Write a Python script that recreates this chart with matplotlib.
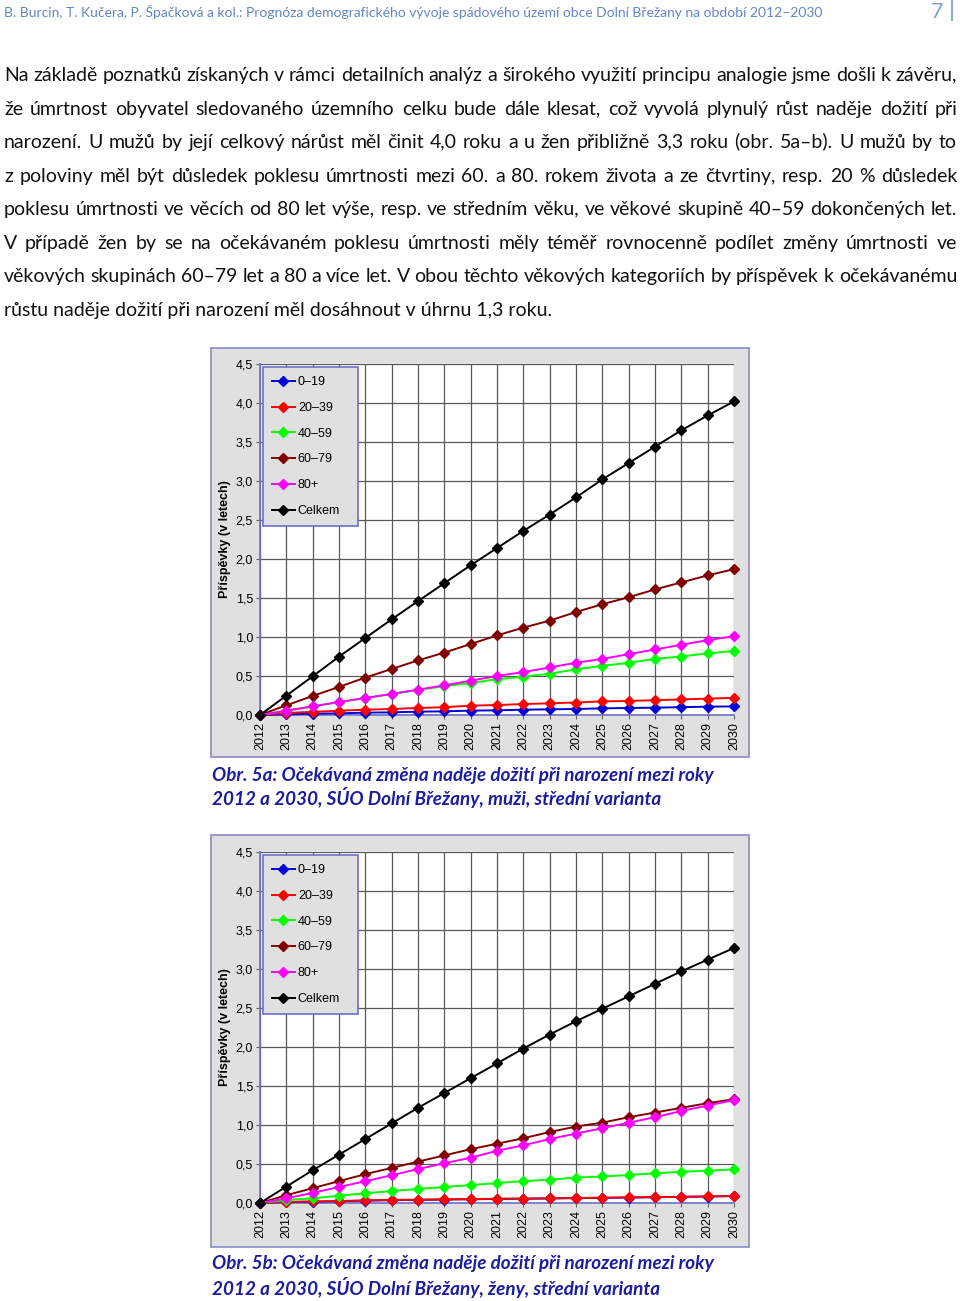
import numpy as np
import matplotlib
matplotlib.use('Agg')
import matplotlib.pyplot as plt
from matplotlib.patches import Rectangle
from matplotlib.lines import Line2D

W, H = 960, 1301

# ---- data ----
years = list(range(2012, 2031))
series_names = ['0–19', '20–39', '40–59', '60–79', '80+', 'Celkem']
series_colors = ['#0000d8', '#ff0000', '#00ff00', '#800000', '#ff00ff', '#000000']

# obr. 5a - muzi
m_0_19 = [0, 0.008, 0.017, 0.021, 0.030, 0.034, 0.043, 0.047, 0.056, 0.060,
          0.068, 0.073, 0.077, 0.085, 0.090, 0.094, 0.100, 0.107, 0.110]
m_20_39 = [0, 0.026, 0.040, 0.055, 0.068, 0.077, 0.090, 0.100, 0.120, 0.128,
           0.140, 0.150, 0.160, 0.175, 0.180, 0.190, 0.200, 0.210, 0.220]
m_40_59 = [0, 0.055, 0.110, 0.165, 0.215, 0.270, 0.320, 0.370, 0.410, 0.460,
           0.490, 0.530, 0.585, 0.630, 0.670, 0.720, 0.750, 0.790, 0.820]
m_60_79 = [0, 0.124, 0.244, 0.360, 0.480, 0.590, 0.700, 0.800, 0.910, 1.020,
           1.120, 1.210, 1.320, 1.420, 1.510, 1.610, 1.700, 1.790, 1.870]
m_80 = [0, 0.056, 0.110, 0.167, 0.218, 0.270, 0.325, 0.380, 0.440, 0.500,
        0.550, 0.610, 0.670, 0.720, 0.780, 0.840, 0.900, 0.960, 1.010]
m_total = [0, 0.248, 0.496, 0.748, 0.987, 1.226, 1.460, 1.690, 1.920, 2.140,
           2.360, 2.570, 2.790, 3.020, 3.230, 3.440, 3.650, 3.840, 4.020]

# obr. 5b - zeny
z_0_19 = [0, 0.012, 0.017, 0.022, 0.030, 0.036, 0.040, 0.044, 0.048, 0.052,
          0.055, 0.058, 0.062, 0.066, 0.070, 0.074, 0.078, 0.083, 0.088]
z_20_39 = [0, 0.015, 0.020, 0.025, 0.034, 0.040, 0.043, 0.047, 0.050, 0.055,
           0.057, 0.060, 0.065, 0.068, 0.072, 0.076, 0.080, 0.085, 0.090]
z_40_59 = [0, 0.040, 0.060, 0.094, 0.124, 0.154, 0.180, 0.205, 0.230, 0.256,
           0.280, 0.300, 0.325, 0.340, 0.360, 0.380, 0.400, 0.415, 0.430]
z_60_79 = [0, 0.100, 0.190, 0.280, 0.370, 0.450, 0.530, 0.610, 0.690, 0.760,
           0.830, 0.910, 0.980, 1.030, 1.100, 1.160, 1.220, 1.280, 1.330]
z_80 = [0, 0.060, 0.130, 0.205, 0.280, 0.355, 0.435, 0.510, 0.580, 0.670,
        0.740, 0.820, 0.890, 0.960, 1.030, 1.100, 1.180, 1.250, 1.320]
z_total = [0, 0.210, 0.420, 0.620, 0.820, 1.020, 1.220, 1.410, 1.600, 1.790,
           1.980, 2.160, 2.330, 2.490, 2.650, 2.810, 2.970, 3.120, 3.270]

y_ticks = [0, 0.5, 1.0, 1.5, 2.0, 2.5, 3.0, 3.5, 4.0, 4.5]
y_tick_labels = ['0,0', '0,5', '1,0', '1,5', '2,0', '2,5', '3,0', '3,5', '4,0', '4,5']
y_label = 'Příspěvky (v letech)'

header = ('B. Burcin, T. Kučera, P. Špačková a kol.: Prognóza demografického vývoje '
          'spádového území obce Dolní Břežany na období 2012–2030')
page_no = '7'

paragraph = [
    'Na základě poznatků získaných v rámci detailních analýz a širokého využití principu analogie jsme došli k závěru,',
    'že úmrtnost obyvatel sledovaného územního celku bude dále klesat, což vyvolá plynulý růst naděje dožití při',
    'narození. U mužů by její celkový nárůst měl činit 4,0 roku a u žen přibližně 3,3 roku (obr. 5a–b). U mužů by to',
    'z poloviny měl být důsledek poklesu úmrtnosti mezi 60. a 80. rokem života a ze čtvrtiny, resp. 20 % důsledek',
    'poklesu úmrtnosti ve věcích od 80 let výše, resp. ve středním věku, ve věkové skupině 40–59 dokončených let.',
    'V případě žen by se na očekávaném poklesu úmrtnosti měly téměř rovnocenně podílet změny úmrtnosti ve',
    'věkových skupinách 60–79 let a 80 a více let. V obou těchto věkových kategoriích by příspěvek k očekávanému',
    'růstu naděje dožití při narození měl dosáhnout v úhrnu 1,3 roku.',
]

caption_a = ['Obr. 5a: Očekávaná změna naděje dožití při narození mezi roky',
             '2012 a 2030, SÚO Dolní Břežany, muži, střední varianta']
caption_b = ['Obr. 5b: Očekávaná změna naděje dožití při narození mezi roky',
             '2012 a 2030, SÚO Dolní Břežany, ženy, střední varianta']

fig = plt.figure(figsize=(W / 100, H / 100), dpi=100)
fig.patch.set_facecolor('white')
renderer = fig.canvas.get_renderer()

# small scratch figure, used to keep the single words on one baseline
probe = plt.figure(figsize=(4, 0.6), dpi=100)
SUFFIX = '|pj('


def fx(x):
    return x / W


def fy(y):
    return 1 - y / H


def text_width(s, size, **kw):
    t = fig.text(0, 0, s, fontsize=size, **kw)
    w = t.get_window_extent(renderer).width
    t.remove()
    return w


def fit_size(s, target, **kw):
    return 20 * target / text_width(s, 20, **kw)


def render_probe(s, size, family):
    probe.clf()
    probe.text(0.0125, 1 / 3, s, fontsize=size, family=family, color='black',
               va='baseline', ha='left')
    probe.canvas.draw()
    return np.asarray(probe.canvas.buffer_rgba())[:, :, 0] < 140


def baseline_shift(word, size, family):
    a = render_probe(word, size, family)
    b = render_probe(word + SUFFIX, size, family)
    cols = np.where(a.any(axis=0))[0]
    if len(cols) == 0:
        return 0
    c0, c1 = cols.min(), max(cols.min() + 1, cols.max() - 2)
    ra = np.where(a[:, c0:c1].any(axis=1))[0]
    rb = np.where(b[:, c0:c1].any(axis=1))[0]
    if len(ra) == 0 or len(rb) == 0:
        return 0
    return int(ra.min() - rb.min())


def justify(line, y, x0, x1, size, **kw):
    # spread the words so the line fills x0..x1 (justified paragraph)
    words = line.split(' ')
    widths = [text_width(w, size, **kw) for w in words]
    gap = (x1 - x0 - sum(widths)) / (len(words) - 1)
    x = x0
    for w, wd in zip(words, widths):
        dy = baseline_shift(w, size, kw['family'])
        fig.text(fx(x), fy(y - dy), w, fontsize=size, va='baseline', ha='left', **kw)
        x += wd + gap


# header
head_kw = dict(family='Lato', color='#6485c4')
fig.text(fx(4), fy(17), header, fontsize=fit_size(header, 816, **head_kw),
         va='baseline', ha='left', **head_kw)
fig.text(fx(937), fy(17.5), page_no, fontsize=15.5, va='baseline', ha='center',
         family='Lato', color='#7f9fcf')
fig.add_artist(Line2D([fx(952), fx(952)], [fy(0), fy(20)], color='#8fa8d6', lw=1.5))

# paragraph
body_kw = dict(family='Lato', color='#111111')
body_size = fit_size(paragraph[-1], 549, **body_kw)
line_base = [81, 115, 148, 182, 215, 249, 282, 316]
for line, y in zip(paragraph[:-1], line_base[:-1]):
    justify(line, y, 4, 957, body_size, **body_kw)
fig.text(fx(4), fy(line_base[-1]), paragraph[-1], fontsize=body_size,
         va='baseline', ha='left', **body_kw)
plt.close(probe)


def draw_chart(series, frame_top, frame_bot, plot_top, plot_bot, caption, cap_y):
    fig.add_artist(Rectangle((fx(211), fy(frame_bot)), fx(749) - fx(211),
                             fy(frame_top) - fy(frame_bot), transform=fig.transFigure,
                             facecolor='#e0e0e0', edgecolor='#8a8ac8', lw=1.2, zorder=-1))
    ax = fig.add_axes([fx(260), fy(plot_bot), fx(734) - fx(260), fy(plot_top) - fy(plot_bot)])
    ax.set_facecolor('white')
    for vals, name, col in zip(series, series_names, series_colors):
        ax.plot(years, vals, color=col, lw=1.4, marker='D', markersize=5,
                label=name, clip_on=False, zorder=3)
    ax.set_xlim(2012, 2030)
    ax.set_ylim(0, 4.5)
    ax.set_xticks(years)
    ax.set_xticklabels([str(y) for y in years], rotation=90, fontsize=9,
                       family='Liberation Sans')
    ax.set_yticks(y_ticks)
    ax.set_yticklabels(y_tick_labels, fontsize=9, family='Liberation Sans')
    ax.tick_params(length=3, color='#606060', pad=2)
    ax.grid(True, color='#5a5a5a', lw=0.9)
    ax.set_axisbelow(True)
    for s in ['top', 'right']:
        ax.spines[s].set_visible(False)
    for s in ['left', 'bottom']:
        ax.spines[s].set_color('#7070c8')
        ax.spines[s].set_linewidth(1.2)
    ax.set_ylabel(y_label, fontsize=9, fontweight='bold', family='Liberation Sans')
    ax.yaxis.set_label_coords(-0.062, 0.5)
    leg = ax.legend(loc='upper left', bbox_to_anchor=(0.006, 0.5, 0.2, 0.492),
                    mode='expand', prop={'family': 'Liberation Sans', 'size': 9},
                    labelspacing=1.1, handlelength=1.8, handletextpad=0.25,
                    borderpad=0.75, borderaxespad=0, fancybox=False, framealpha=1)
    leg.get_frame().set_facecolor('#e0e0e0')
    leg.get_frame().set_edgecolor('#7070c8')
    leg.get_frame().set_linewidth(1.2)
    cap_kw = dict(family='Lato', fontweight='bold', style='italic', color='#1c1ca0')
    cs = fit_size(caption[0], 501, **cap_kw)
    for line, y in zip(caption, cap_y):
        fig.text(fx(212), fy(y), line, fontsize=cs, va='center', ha='left', **cap_kw)
    return ax


draw_chart([m_0_19, m_20_39, m_40_59, m_60_79, m_80, m_total],
           348, 757, 364, 715, caption_a, [775, 798])
draw_chart([z_0_19, z_20_39, z_40_59, z_60_79, z_80, z_total],
           835, 1247, 852, 1203, caption_b, [1263, 1287])

fig.savefig('out.png', dpi=100, facecolor='white')
